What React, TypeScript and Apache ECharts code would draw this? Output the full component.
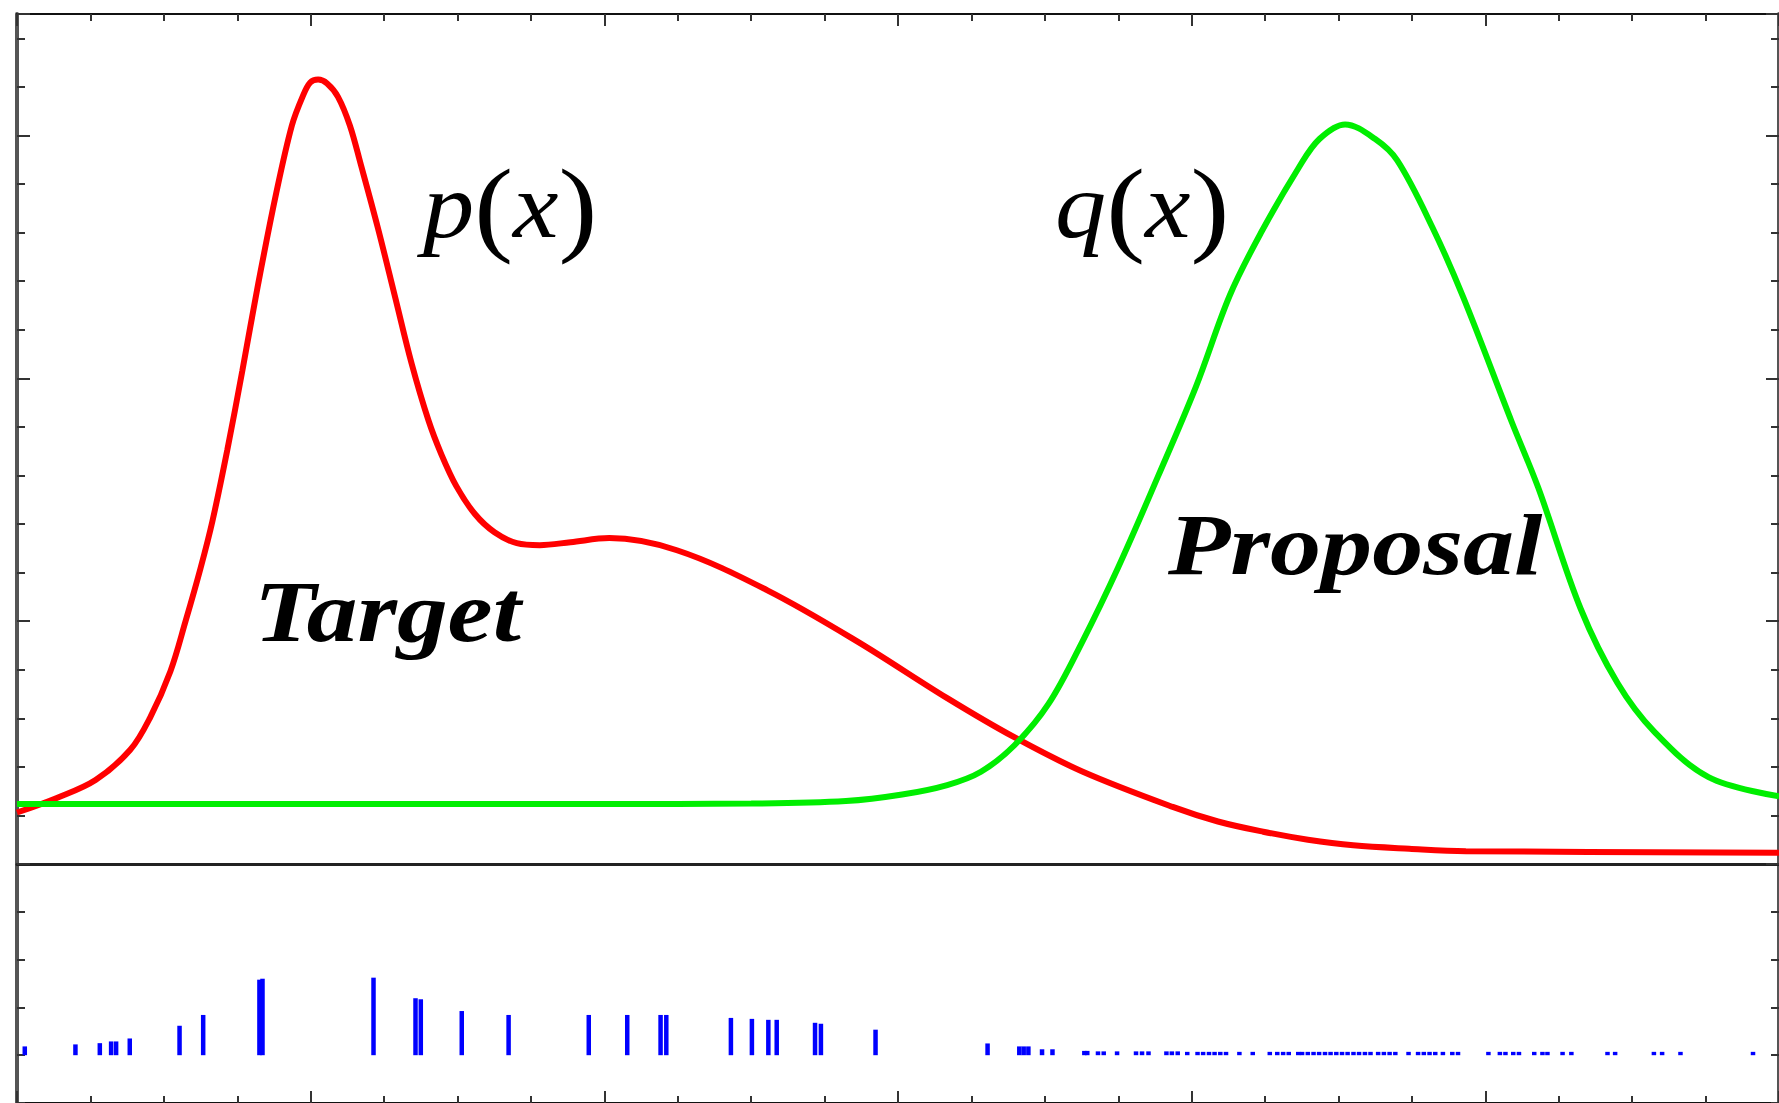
import React, { useEffect, useRef } from "react";
import * as echarts from "echarts";

// Target density p(x)
const targetX = [0, 0.271, 0.535, 0.77, 0.905, 1.045, 1.148, 1.25, 1.331, 1.432, 1.534, 1.643, 1.765, 1.872, 1.945, 1.997, 2.051, 2.112, 2.186, 2.267, 2.342, 2.457, 2.572, 2.687, 2.802, 2.89, 2.992, 3.12, 3.252, 3.404, 3.56, 3.77, 4.034, 4.494, 5.107, 5.719, 6.335, 6.795, 7.255, 7.871, 8.179, 8.487, 8.792, 9.1, 9.482, 9.868, 12];
const targetP = [0.0212, 0.0272, 0.0346, 0.0469, 0.0601, 0.0794, 0.1, 0.1218, 0.1412, 0.1704, 0.2029, 0.239, 0.2761, 0.3041, 0.316, 0.3218, 0.323, 0.3214, 0.3159, 0.3041, 0.2879, 0.2621, 0.2342, 0.2062, 0.1827, 0.1687, 0.1556, 0.144, 0.1366, 0.1321, 0.1313, 0.1325, 0.1342, 0.1292, 0.1128, 0.0918, 0.0683, 0.0521, 0.0381, 0.0235, 0.0175, 0.0133, 0.01, 0.0077, 0.0063, 0.0053, 0.0046];

// Proposal density q(x)
const proposalX = [0, 1, 2, 3, 4, 5, 5.645, 6.028, 6.335, 6.565, 6.795, 7.026, 7.255, 7.5, 7.77, 8.03, 8.26, 8.47, 8.73, 8.87, 9.045, 9.25, 9.4, 9.64, 9.85, 10.18, 10.36, 10.65, 10.9, 11.15, 11.52, 12];
const proposalQ = [0.0247, 0.0247, 0.0247, 0.0247, 0.0247, 0.0249, 0.0259, 0.0286, 0.0325, 0.038, 0.049, 0.066, 0.0915, 0.1222, 0.1595, 0.1967, 0.2342, 0.2597, 0.2868, 0.2985, 0.3045, 0.2985, 0.2897, 0.2621, 0.2333, 0.182, 0.155, 0.105, 0.0745, 0.0545, 0.0358, 0.0279];

// Samples drawn from q and their importance weights
const sampleX = [0.053, 0.398, 0.564, 0.641, 0.675, 0.768, 1.107, 1.268, 1.651, 1.672, 2.428, 2.714, 2.75, 3.029, 3.348, 3.894, 4.156, 4.383, 4.422, 4.862, 5.005, 5.117, 5.174, 5.435, 5.475, 5.847, 6.61, 6.826, 6.856, 6.888, 6.981, 7.052, 7.269, 7.289, 7.362, 7.401, 7.492, 7.621, 7.662, 7.706, 7.828, 7.865, 7.905, 7.97, 8.04, 8.078, 8.118, 8.156, 8.195, 8.234, 8.325, 8.416, 8.532, 8.583, 8.623, 8.661, 8.726, 8.752, 8.791, 8.83, 8.868, 8.908, 8.946, 8.985, 9.024, 9.062, 9.102, 9.14, 9.18, 9.218, 9.27, 9.309, 9.348, 9.387, 9.477, 9.542, 9.581, 9.62, 9.659, 9.711, 9.775, 9.814, 10.021, 10.099, 10.137, 10.19, 10.229, 10.333, 10.389, 10.423, 10.526, 10.586, 10.832, 10.884, 11.148, 11.204, 11.329, 11.823];
const sampleW = [0.092, 0.113, 0.126, 0.144, 0.144, 0.175, 0.308, 0.421, 0.79, 0.8, 0.811, 0.596, 0.585, 0.462, 0.421, 0.421, 0.421, 0.421, 0.421, 0.39, 0.38, 0.37, 0.37, 0.339, 0.329, 0.267, 0.123, 0.092, 0.092, 0.092, 0.062, 0.062, 0.045, 0.045, 0.04, 0.04, 0.04, 0.04, 0.04, 0.04, 0.04, 0.04, 0.04, 0.035, 0.035, 0.035, 0.035, 0.035, 0.035, 0.035, 0.035, 0.035, 0.035, 0.035, 0.035, 0.035, 0.035, 0.035, 0.035, 0.035, 0.035, 0.035, 0.035, 0.035, 0.035, 0.035, 0.035, 0.035, 0.035, 0.035, 0.035, 0.035, 0.035, 0.035, 0.035, 0.035, 0.035, 0.035, 0.035, 0.035, 0.035, 0.035, 0.035, 0.035, 0.035, 0.035, 0.035, 0.035, 0.035, 0.035, 0.035, 0.035, 0.035, 0.035, 0.035, 0.035, 0.035, 0.035];

const W = 1779;
const H = 1103;

const tickStyle = { color: "#333", width: 2 };
const SERIF = "Liberation Serif";

function frameXAxis(gridIndex: number, position: "top" | "bottom", ticks: boolean, line: any) {
  return {
    type: "value",
    gridIndex,
    position,
    min: 0,
    max: 12,
    interval: 2,
    axisLine: { show: true, onZero: false, lineStyle: line },
    axisTick: { show: ticks, inside: true, length: 12, lineStyle: tickStyle },
    minorTick: { show: ticks, splitNumber: 4, length: 7, lineStyle: tickStyle },
    axisLabel: { show: false },
    splitLine: { show: false },
    minorSplitLine: { show: false },
  };
}

function frameYAxis(gridIndex: number, position: "left" | "right", min: number, max: number, interval: number, minorSplit: number, majorLen: number) {
  return {
    type: "value",
    gridIndex,
    position,
    min,
    max,
    interval,
    axisLine: { show: true, onZero: false, lineStyle: { color: "#555", width: 4 } },
    axisTick: { show: true, inside: true, length: majorLen, lineStyle: tickStyle },
    minorTick: { show: minorSplit > 1, splitNumber: minorSplit, length: 8, lineStyle: tickStyle },
    axisLabel: { show: false },
    splitLine: { show: false },
    minorSplitLine: { show: false },
  };
}

export default function App() {
  const ref = useRef<HTMLDivElement>(null);

  useEffect(() => {
    if (!ref.current) return;
    const chart = echarts.init(ref.current, undefined, { renderer: "svg" });

    const mathLetter = { fontFamily: SERIF, fontStyle: "italic", fontSize: 93, fill: "#000", color: "#000" };
    const mathParen = { fontFamily: SERIF, fontStyle: "normal", fontSize: 106, fill: "#000", color: "#000" };
    const boldItalic = { fontFamily: SERIF, fontStyle: "italic", fontWeight: "bold", fontSize: 86, fill: "#000" };

    chart.setOption({
      animation: false,
      backgroundColor: "#fff",
      textStyle: { fontFamily: SERIF },
      grid: [
        { left: 17, right: -11, top: 14, height: 850 },
        { left: 17, right: -11, top: 864, height: 244 },
      ],
      xAxis: [
        frameXAxis(0, "top", true, { color: "#111", width: 2 }),
        frameXAxis(1, "top", false, { color: "#222", width: 3 }),
        frameXAxis(1, "bottom", true, { color: "#111", width: 2 }),
      ],
      yAxis: [
        frameYAxis(0, "left", 0, 0.35, 0.1, 5, 13),
        frameYAxis(0, "right", 0, 0.35, 0.1, 5, 13),
        frameYAxis(1, "left", -0.5, 2, 0.5, 0, 8),
        frameYAxis(1, "right", -0.5, 2, 0.5, 0, 8),
      ],
      series: [
        {
          name: "p(x)",
          type: "line",
          xAxisIndex: 0,
          yAxisIndex: 0,
          data: targetX.map((x, i) => [x, targetP[i]]),
          smooth: 0.35,
          showSymbol: false,
          lineStyle: { color: "#ff0000", width: 6 },
          z: 3,
        },
        {
          name: "q(x)",
          type: "line",
          xAxisIndex: 0,
          yAxisIndex: 0,
          data: proposalX.map((x, i) => [x, proposalQ[i]]),
          smooth: 0.35,
          showSymbol: false,
          lineStyle: { color: "#00ee00", width: 6 },
          z: 4,
        },
        {
          name: "weights",
          type: "custom",
          xAxisIndex: 2,
          yAxisIndex: 2,
          data: sampleX.map((x, i) => [x, sampleW[i]]),
          encode: { x: 0, y: 1 },
          renderItem: (_params: any, api: any) => {
            const x = api.value(0);
            const w = api.value(1);
            const p0 = api.coord([x, 0]);
            const p1 = api.coord([x, w]);
            return {
              type: "line",
              shape: { x1: p0[0], y1: p0[1], x2: p1[0], y2: p1[1] },
              style: { stroke: "#0000ff", lineWidth: 4.5 },
            };
          },
        },
      ],
      graphic: [
        {
          type: "text",
          x: 423,
          y: 206,
          scaleX: 1.1,
          z: 100,
          style: {
            text: "{i|p}{r|(}{i|x}{r|)}",
            rich: { i: mathLetter, r: mathParen },
            fontFamily: SERIF,
            fontSize: 93,
            textAlign: "left",
            textVerticalAlign: "middle",
            fill: "#000",
          },
        },
        {
          type: "text",
          x: 1055,
          y: 206,
          scaleX: 1.1,
          z: 100,
          style: {
            text: "{i|q}{r|(}{i|x}{r|)}",
            rich: { i: mathLetter, r: mathParen },
            fontFamily: SERIF,
            fontSize: 93,
            textAlign: "left",
            textVerticalAlign: "middle",
            fill: "#000",
          },
        },
        {
          type: "text",
          x: 254,
          y: 612,
          scaleX: 1.18,
          z: 100,
          style: {
            text: "Target",
            ...boldItalic,
            textAlign: "left",
            textVerticalAlign: "middle",
          },
        },
        {
          type: "text",
          x: 1168,
          y: 545,
          scaleX: 1.187,
          z: 100,
          style: {
            text: "Proposal",
            ...boldItalic,
            textAlign: "left",
            textVerticalAlign: "middle",
          },
        },
      ],
    });

    return () => chart.dispose();
  }, []);

  return (
    <div
      ref={ref}
      style={{ position: "fixed", left: 0, top: 0, width: W, height: H, background: "#fff" }}
    />
  );
}
